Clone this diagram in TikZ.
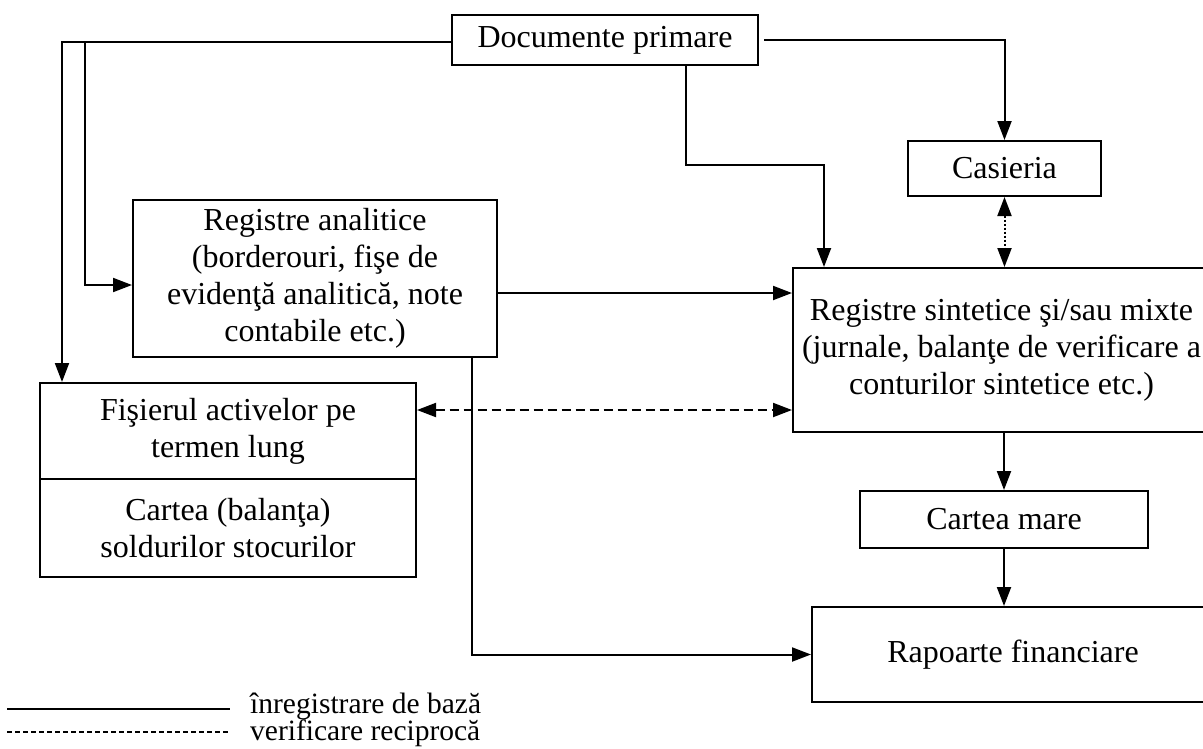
\documentclass[tikz,border=0pt]{standalone}
\usepackage{fontspec}
\setmainfont{Liberation Serif}
\usetikzlibrary{arrows.meta}

\tikzset{
  box/.style={draw, line width=2pt, rectangle, inner sep=0pt, align=center,
    font=\fontsize{32}{37}\selectfont},
  conn/.style={line width=2pt},
  tip/.tip={Triangle[length=19pt,width=14pt]},
  arr/.style={conn, -tip},
  darr/.style={conn, tip-tip},
  dashline/.style={dash pattern=on 9pt off 5pt},
  dotline/.style={dash pattern=on 2pt off 2pt},
  legtext/.style={anchor=base west, inner sep=0pt, font=\fontsize{29.5}{34}\selectfont}
}

\begin{document}
\begin{tikzpicture}[x=1pt,y=-1pt]
\useasboundingbox (0,0) rectangle (1203,748);

% boxes
\node[box, minimum width=306pt, minimum height=50pt] (doc) at (605,40) {Documente primare};
\node[box, minimum width=193pt, minimum height=55pt] (cas) at (1004.5,168.5) {Casieria};
\node[box, minimum width=364pt, minimum height=157pt] (ra) at (315,278.5)
  {Registre analitice\\(borderouri, fişe de\\evidenţă analitică, note\\contabile etc.)};
\node[box, minimum width=417pt, minimum height=164pt] (rs) at (1001.5,350)
  {Registre sintetice şi/sau mixte\\(jurnale, balanţe de verificare a\\conturilor sintetice etc.)};
\node[box, minimum width=376pt, minimum height=96pt] (fis) at (228,431) {Fişierul activelor pe\\termen lung};
\node[box, minimum width=376pt, minimum height=98pt] (cart) at (228,528) {Cartea (balanţa)\\soldurilor stocurilor};
\node[box, minimum width=288pt, minimum height=57pt] (cm) at (1004,519.5) {Cartea mare};
\node[box, minimum width=402pt, minimum height=95pt] (rap) at (1013,654.5) {Rapoarte financiare};

% helper points for the two left-hand feeds
\coordinate (l1) at (62,42);
\coordinate (l2) at (85,42);
\coordinate (rain) at ([yshift=-6.5pt]ra.west);
\coordinate (raout) at ([yshift=-14.5pt]ra.east);
\coordinate (fisout) at ([yshift=21pt]fis.east);
\coordinate (docl) at ([yshift=-2pt]doc.west);

% basic recording flows
\draw[arr] (docl) -- (l1) -- (l1 |- fis.north);
\draw[arr] (l2) -- (l2 |- rain) -- (rain);
\draw[arr] ([xshift=81pt]doc.south) -- ++(0,99) -| ([xshift=-177.5pt]rs.north);
\draw[arr] ([xshift=5pt]doc.east) -| (cas.north);
\draw[arr] (raout) -- (raout -| rs.west);
\draw[arr] ([xshift=157pt]ra.south) |- (rap.west);
\draw[arr] (cm.north |- rs.south) -- (cm.north);
\draw[arr] (cm.south) -- (cm.south |- rap.north);

% reciprocal checks
\draw[darr, dotline] (cas.south) -- (cas.south |- rs.north);
\draw[darr, dashline] (fisout) -- (fisout -| rs.west);

% legend
\coordinate (s1) at (7,709);
\coordinate (s2) at (230,709);
\coordinate (d1) at (7,732);
\coordinate (d2) at (230,732);
\draw[conn] (s1) -- (s2);
\draw[line width=1.5pt, dash pattern=on 5pt off 3pt] (d1) -- (d2);
\node[legtext] (lg1) at (250,713) {înregistrare de bază};
\node[legtext] (lg2) at (250,740) {verificare reciprocă};
\end{tikzpicture}
\end{document}
